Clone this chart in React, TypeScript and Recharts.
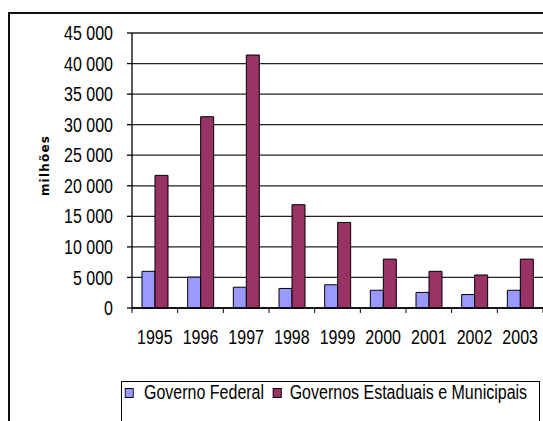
import React from 'react';
import { BarChart, Bar, XAxis, YAxis, CartesianGrid, Label } from 'recharts';

const years = ['1995', '1996', '1997', '1998', '1999', '2000', '2001', '2002', '2003'];
const federal = [6000, 5050, 3400, 3200, 3800, 2900, 2550, 2200, 2900];
const estaduais = [21700, 31300, 41400, 16900, 14000, 8000, 6000, 5400, 8000];
const yTicks = [0, 5000, 10000, 15000, 20000, 25000, 30000, 35000, 40000, 45000];
const seriesNames = ['Governo Federal', 'Governos Estaduais e Municipais'];
const seriesColors = ['#9999FF', '#993366'];
const yLabel = 'milhões';

const data = years.map((year, i) => ({ year, federal: federal[i], estaduais: estaduais[i] }));

const W = 543;
const H = 421;
const MARGIN = { top: 33, right: 0, bottom: 83, left: 30 };
const YAXIS_W = 102;
const PLOT_W = W - MARGIN.left - YAXIS_W - MARGIN.right;
const BAND = PLOT_W / years.length;
const FONT = "'Liberation Sans', Arial, sans-serif";
const SX = 0.8;

const fmt = (v: number) => String(v).replace(/\B(?=(\d{3})+(?!\d))/g, ' ');

const XTick = (props: any) => {
  const { x, y, payload, index } = props;
  const half = BAND / 2;
  return (
    <g>
      <line x1={x - half} x2={x - half} y1={y} y2={y + 5} stroke="#000" strokeWidth={1} />
      {index === years.length - 1 && (
        <line x1={x + half} x2={x + half} y1={y} y2={y + 5} stroke="#000" strokeWidth={1} />
      )}
      <g transform={`translate(${x},${y + 22}) scale(${SX},1)`}>
        <text x={0} y={0} dy="0.71em" textAnchor="middle" fontSize={20} fill="#000" fontFamily={FONT}>
          {payload.value}
        </text>
      </g>
    </g>
  );
};

const YTick = (props: any) => {
  const { x, y, payload } = props;
  return (
    <g transform={`translate(${x},${y}) scale(${SX},1)`}>
      <text x={0} y={0} dy="0.355em" textAnchor="end" fontSize={20} fill="#000" fontFamily={FONT}>
        {fmt(payload.value)}
      </text>
    </g>
  );
};

const YLabel = (props: any) => {
  const vb = props.viewBox || {};
  const cx = (vb.x ?? 0) + 15;
  const cy = (vb.y ?? 0) + (vb.height ?? 0) / 2 - 5;
  return (
    <text
      x={cx}
      y={cy}
      transform={`rotate(-90, ${cx}, ${cy})`}
      textAnchor="middle"
      dominantBaseline="central"
      fontWeight="bold"
      fontSize={12}
      letterSpacing={1.2}
      fill="#000"
      fontFamily="DejaVu Sans"
    >
      {yLabel}
    </text>
  );
};

export default function App() {
  return (
    <div style={{ position: 'absolute', left: 0, top: 0, width: W, height: H, overflow: 'hidden', background: '#fff' }}>
      <div
        style={{
          position: 'absolute',
          left: 8,
          top: 12,
          width: 700,
          height: 700,
          border: '2px solid #111',
        }}
      />
      <div style={{ position: 'absolute', left: 0, top: 0 }}>
        <BarChart width={W} height={H} data={data} margin={MARGIN} barGap={0} barSize={13}>
          <CartesianGrid vertical={false} stroke="#222" strokeWidth={1.3} />
          <XAxis
            dataKey="year"
            interval={0}
            tickLine={false}
            tickSize={0}
            tickMargin={0}
            height={30}
            axisLine={{ stroke: '#000', strokeWidth: 1.3 }}
            tick={<XTick />}
          />
          <YAxis
            width={YAXIS_W}
            domain={[0, 45000]}
            ticks={yTicks}
            interval={0}
            tickSize={5}
            tickMargin={14}
            axisLine={{ stroke: '#000', strokeWidth: 1.3 }}
            tickLine={{ stroke: '#000', strokeWidth: 1.3 }}
            tick={<YTick />}
          >
            <Label content={<YLabel />} />
          </YAxis>
          <Bar dataKey="federal" name={seriesNames[0]} fill={seriesColors[0]} stroke="#000" strokeWidth={1} isAnimationActive={false} />
          <Bar dataKey="estaduais" name={seriesNames[1]} fill={seriesColors[1]} stroke="#000" strokeWidth={1} isAnimationActive={false} />
        </BarChart>
      </div>
      <div
        style={{
          position: 'absolute',
          left: 121,
          top: 381,
          width: 419,
          height: 60,
          border: '1px solid #000',
          boxSizing: 'border-box',
        }}
      />
      <div
        style={{
          position: 'absolute',
          left: 124,
          top: 382,
          height: 21,
          display: 'flex',
          alignItems: 'center',
          fontFamily: FONT,
          fontSize: 20,
          color: '#000',
          lineHeight: '21px',
          whiteSpace: 'nowrap',
          transform: `scaleX(${SX})`,
          transformOrigin: '0 0',
        }}
      >
        {seriesNames.map((n, i) => (
          <div key={n} style={{ display: 'flex', alignItems: 'center', marginLeft: i === 0 ? 1 : 11 }}>
            <span
              style={{
                display: 'inline-block',
                width: 9,
                height: 8,
                background: seriesColors[i],
                border: '1px solid #000',
                marginRight: i === 0 ? 13 : 10,
              }}
            />
            <span>{n}</span>
          </div>
        ))}
      </div>
    </div>
  );
}
